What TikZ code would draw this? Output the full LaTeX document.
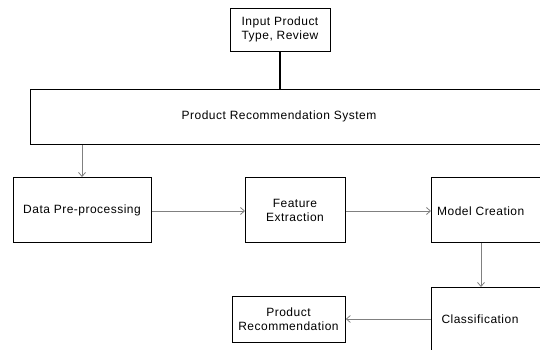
\documentclass[tikz,border=0pt]{standalone}
\usepackage{fontspec}
\setmainfont{Liberation Sans}[LetterSpace=4]
\usetikzlibrary{arrows.meta}
\tikzset{
  box/.style={draw=black, line width=0.8pt, fill=white, inner sep=0pt, anchor=north west},
  lbl/.style={font=\fontsize{12}{14}\selectfont, align=center, inner sep=0pt},
  conn/.style={draw=black!50, line width=0.9pt, -{Straight Barb[length=4pt,width=7pt,line width=0.8pt]}},
  thick conn/.style={draw=black, line width=2pt}
}
\begin{document}
\begin{tikzpicture}[x=1pt,y=-1pt]
\useasboundingbox (0,0) rectangle (540,350);
\clip (0,0) rectangle (540,350);
% boxes
\node[box, minimum width=100pt, minimum height=43pt] (in) at (230,8) {};
\node[lbl] (intext) at (280,29.5) {Input Product\\Type, Review};
\node[box, minimum width=560pt, minimum height=55pt] (prs) at (30,89) {};
\node[lbl] (prstext) at (279,116) {Product Recommendation System};
\node[box, minimum width=138pt, minimum height=65pt] (dp) at (13,177) {};
\node[lbl] (dptext) at (82,210) {Data Pre-processing};
\node[box, minimum width=100pt, minimum height=65pt] (fe) at (245,177) {};
\node[lbl] (fetext) at (295,210) {Feature\\Extraction};
\node[box, minimum width=140pt, minimum height=65pt] (mc) at (431,177) {};
\node[lbl, anchor=west] (mctext) at (437,211) {Model Creation};
\node[box, minimum width=140pt, minimum height=90pt] (cl) at (431,287) {};
\node[lbl] (cltext) at (480,319) {Classification};
\node[box, minimum width=113pt, minimum height=46pt] (pr) at (232,296) {};
\node[lbl] (prtext) at (288.5,319) {Product\\Recommendation};
% connectors
\draw[thick conn] (in.south) -- (in.south |- prs.north);
\draw[conn] (prs.south west) ++(52,0) coordinate (c1) -- (c1 |- dp.north);
\draw[conn] (dp.east |- 0,211) coordinate (c2) -- (c2 -| fe.west);
\draw[conn] (fe.east |- 0,211) coordinate (c3) -- (c3 -| mc.west);
\draw[conn] (mc.south west) ++(50,0) coordinate (c4) -- (c4 |- cl.north);
\draw[conn] (cl.west |- 0,319) coordinate (c5) -- (c5 -| pr.east);
\end{tikzpicture}
\end{document}
